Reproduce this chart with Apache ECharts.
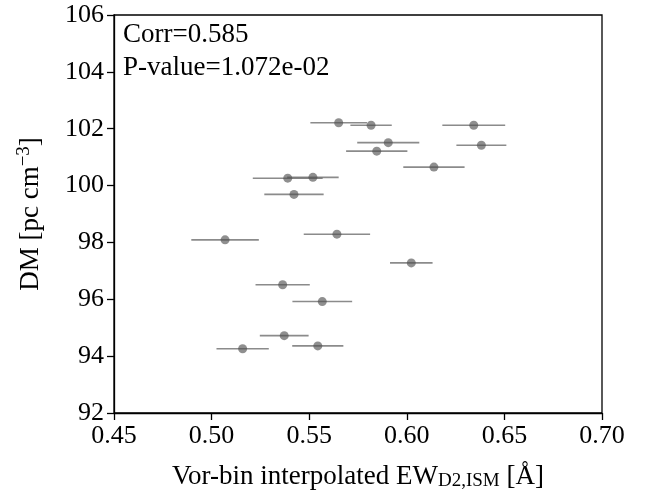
<!DOCTYPE html>
<html>
<head>
<meta charset="utf-8">
<script src="https://cdn.jsdelivr.net/npm/echarts@6/dist/echarts.min.js"></script>
<style>html,body{margin:0;padding:0;background:#fff}#c{width:650px;height:500px}</style>
</head>
<body>
<div id="c"></div>
<script>
const ewValues = [0.5651, 0.5817, 0.6343, 0.5905, 0.6382, 0.5846, 0.6139, 0.5390, 0.5519, 0.5422, 0.5069, 0.5642, 0.6023, 0.5364, 0.5567, 0.5372, 0.5159, 0.5544];
const dmValues = [102.21, 102.12, 102.12, 101.51, 101.42, 101.21, 100.65, 100.26, 100.29, 99.69, 98.09, 98.29, 97.28, 96.51, 95.92, 94.72, 94.26, 94.36];
const ewErrors = [0.0145, 0.0106, 0.0161, 0.0159, 0.0128, 0.0157, 0.0157, 0.0179, 0.0132, 0.0152, 0.0173, 0.0170, 0.0109, 0.0139, 0.0153, 0.0125, 0.0134, 0.0131];
const annotations = ['Corr=0.585', 'P-value=1.072e-02'];

const FONT = 'Liberation Serif';
const FS = 26;   // tick labels
const FT = 27;   // text labels
const chart = echarts.init(document.getElementById('c'), null, {renderer: 'canvas'});
const pts = ewValues.map((x, i) => [x, dmValues[i], ewErrors[i]]);

chart.setOption({
  animation: false,
  backgroundColor: '#fff',
  grid: {left: 114, top: 15, right: 48, bottom: 87, show: true, borderColor: '#000', borderWidth: 1.3, backgroundColor: 'transparent'},
  xAxis: {
    type: 'value', min: 0.45, max: 0.70, interval: 0.05,
    axisLine: {show: true, lineStyle: {color: '#000', width: 1.3}},
    axisTick: {show: true, inside: false, length: 7, lineStyle: {color: '#000', width: 1.3}},
    splitLine: {show: false},
    axisLabel: {color: '#000', fontFamily: FONT, fontSize: FS, margin: 10, formatter: v => v.toFixed(2)},
    name: '{a|Vor-bin interpolated EW}{s|D2,ISM}{a| [Å]}',
    nameLocation: 'middle', nameGap: 49,
    nameTextStyle: {rich: {
      a: {fontFamily: FONT, fontSize: FT, color: '#000'},
      s: {fontFamily: FONT, fontSize: 19, color: '#000', padding: [10, 0, 0, 0]}
    }}
  },
  yAxis: {
    type: 'value', min: 92, max: 106, interval: 2,
    axisLine: {show: true, lineStyle: {color: '#000', width: 1.3}},
    axisTick: {show: true, inside: false, length: 7, lineStyle: {color: '#000', width: 1.3}},
    splitLine: {show: false},
    axisLabel: {color: '#000', fontFamily: FONT, fontSize: FS, margin: 10},
    name: '{a|DM [pc cm}{s|−3}{a|]}',
    nameLocation: 'middle', nameGap: 67, nameRotate: 90,
    nameTextStyle: {rich: {
      a: {fontFamily: FONT, fontSize: FT, color: '#000'},
      s: {fontFamily: FONT, fontSize: 19, color: '#000', padding: [0, 0, 13, 0]}
    }}
  },
  series: [
    {
      type: 'custom',
      data: pts,
      z: 2,
      renderItem: function (params, api) {
        const x = api.value(0), y = api.value(1), e = api.value(2);
        const p1 = api.coord([x - e, y]);
        const p2 = api.coord([x + e, y]);
        return {
          type: 'line',
          shape: {x1: p1[0], y1: p1[1], x2: p2[0], y2: p2[1]},
          style: {stroke: 'rgba(100,100,100,0.75)', lineWidth: 1.6}
        };
      }
    },
    {
      type: 'scatter',
      data: pts.map(p => [p[0], p[1]]),
      symbol: 'circle',
      symbolSize: 9,
      z: 3,
      itemStyle: {color: 'rgba(80,80,80,0.8)'}
    }
  ],
  graphic: [
    {type: 'text', left: 123, top: 21, style: {text: annotations[0], font: FT + 'px "' + FONT + '"', fill: '#000'}},
    {type: 'text', left: 123, top: 54, style: {text: annotations[1], font: FT + 'px "' + FONT + '"', fill: '#000'}}
  ]
});
</script>
</body>
</html>
